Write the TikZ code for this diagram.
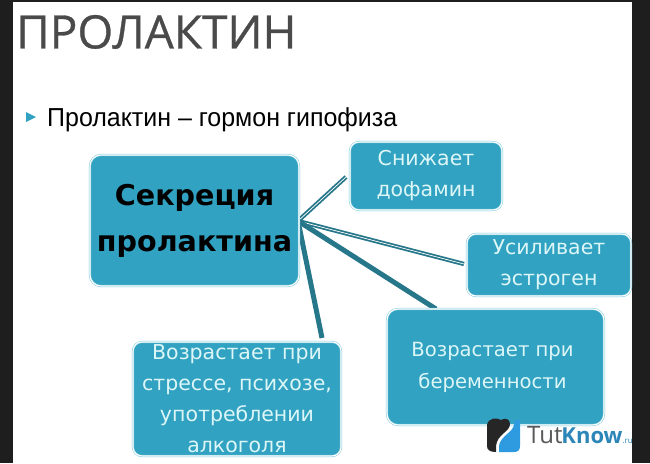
\documentclass[tikz,border=0pt]{standalone}
\usepackage{fontspec}
\setmainfont{DejaVu Sans}
\newfontfamily\titlefont[FakeBold=0.6]{Open Sans}
\newfontfamily\bodyfont[FakeStretch=0.96]{Liberation Sans}
\newfontfamily\logofont{Open Sans}
\definecolor{boxteal}{HTML}{31A2C1}
\definecolor{linkteal}{HTML}{27778A}
\definecolor{edgeteal}{HTML}{7CC8DC}
\definecolor{lighttext}{HTML}{DDF6F8}
\definecolor{darkband}{HTML}{1E1E1E}
\definecolor{titlegray}{HTML}{4A4A4A}
\definecolor{logoblue}{HTML}{2E9BE0}
\definecolor{knowblue}{HTML}{2D86B8}
\tikzset{
  x=1pt,y=-1pt,
  tealbox/.style={draw=edgeteal,line width=.5pt,double=white,double distance=1.1pt,fill=boxteal,rounded corners=9pt,inner sep=0pt,align=center,text=lighttext,
    font=\fontsize{20.5}{31}\selectfont},
  thinlink/.style={draw=linkteal,line width=1.8pt,double=white,double distance=.7pt},
  thicklink/.style={draw=linkteal,line width=5pt},
}
\begin{document}
\begin{tikzpicture}
\useasboundingbox (0,0) rectangle (650,463);
\fill[white] (0,0) rectangle (650,463);
\fill[darkband] (0,0) rectangle (13,463);
\fill[darkband] (632,0) rectangle (650,463);
\fill[darkband] (0,0) rectangle (650,1.5);
\node[anchor=west,text=titlegray,inner sep=0pt,font=\titlefont\fontsize{46}{50}\selectfont] (title) at (16,32) {ПРОЛАКТИН};
\fill[boxteal] (26,112) -- (36,117) -- (26,122) -- cycle;
\node[anchor=west,text=black,inner sep=0pt,font=\bodyfont\fontsize{26}{30}\selectfont] (sub) at (47,120) {Пролактин – гормон гипофиза};
\coordinate (hub) at (298,221);
\coordinate (e1) at (346,177);
\coordinate (e2) at (464,264);
\coordinate (e3) at (436,309);
\coordinate (e4) at (322,338);
\draw[thinlink] (hub) -- (e1);
\draw[thinlink] (hub) -- (e2);
\draw[thicklink] (hub) -- (e3);
\draw[thicklink] (hub) -- (e4);
\node[tealbox,minimum width=209pt,minimum height=131pt,rounded corners=11pt,text=black,font=\fontsize{28.6}{46}\selectfont\bfseries] (main) at (194.5,220.5) {Секреция\\пролактина};
\node[tealbox,minimum width=152pt,minimum height=68pt] (b1) at (426,176) {Снижает\\дофамин};
\node[tealbox,minimum width=164pt,minimum height=62pt] (b2) at (549,265) {Усиливает\\эстроген};
\node[tealbox,minimum width=217pt,minimum height=116pt,rounded corners=11pt,font=\fontsize{19.6}{31}\selectfont] (b3) at (495.5,367) {Возрастает при\hspace*{6pt}\\[1pt]беременности\hspace*{6pt}};
\node[tealbox,minimum width=208pt,minimum height=114pt] (b4) at (237,399) {Возрастает при\\стрессе, психозе,\\употреблении\\алкоголя};
% logo
\fill[black!85] (487,425) .. controls (488,418) and (497,417) .. (501,420) .. controls (504,418) and (510,418) .. (510,424) .. controls (510,432) and (497,434) .. (496,446) -- (496,452) .. controls (490,452) and (487,450) .. (487,446) -- cycle;
\fill[logoblue] (520,420) -- (520,446) .. controls (520,450) and (518,452) .. (514,452) -- (499,452) -- (499,446) .. controls (500,436) and (514,432) .. (514,424) .. controls (514,421) and (516,419) .. (520,420) -- cycle;
\node[anchor=base west,inner sep=0pt,text=black!65,font=\logofont\fontsize{24}{26}\selectfont] (logo) at (527,443) {Tut\kern-1pt\textcolor{knowblue}{\bfseries\fontsize{22}{26}\selectfont Know}\textcolor{knowblue}{\fontsize{8}{10}\selectfont .ru}};
\end{tikzpicture}
\end{document}
